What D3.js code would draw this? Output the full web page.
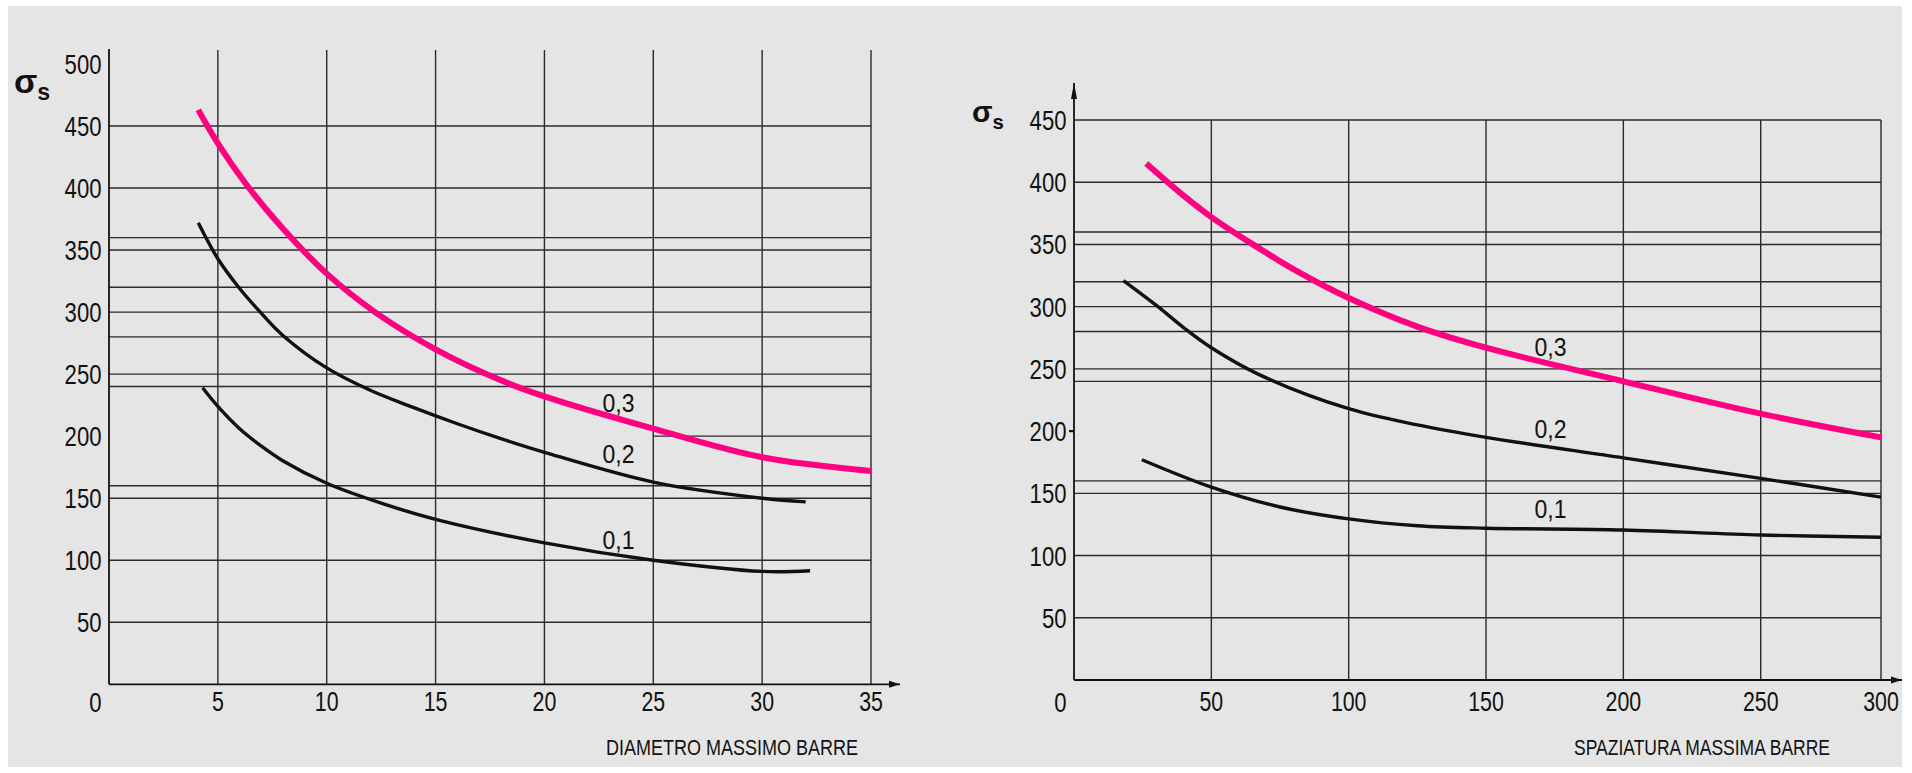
<!DOCTYPE html>
<html><head><meta charset="utf-8">
<script src="https://cdn.jsdelivr.net/npm/d3@7"></script>
<style>html,body{margin:0;padding:0;background:#fff;}svg{display:block;}</style>
</head><body>
<script>
// ---------- DATA ----------
const leftXTicks = [5, 10, 15, 20, 25, 30, 35];
const leftYLabels = [50, 100, 150, 200, 250, 300, 350, 400, 450, 500];
const leftGrid = [50, 100, 150, 160, 240, 250, 280, 300, 320, 350, 360, 400, 450];
const leftPartial = {value: 200, from: 25, to: 35};
const leftSeries03 = [[4.1,463],[5,436],[6.3,403],[7.9,369],[10,331],[12.3,299],[15,270],[18,245],[20,232],[25,206],[30,183],[35,172]];
const leftSeries02 = [[4.1,372],[5,343],[6,319],[7,299],[8,281],[10,255],[12,237],[14,223],[16,210],[18,198],[20,187],[25,163],[30,150],[32,147]];
const leftSeries01 = [[4.3,239],[5,224],[6,206],[7,192],[8,180],[10,162],[12.5,146],[15,133],[20,114],[25,100],[30,91],[32.2,91.5]];
const leftLabels = [{t:"0,3", x:23.4, v:219.5},{t:"0,2", x:23.4, v:178.4},{t:"0,1", x:23.4, v:109}];
const leftTitle = "DIAMETRO MASSIMO BARRE";

const rightXTicks = [50, 100, 150, 200, 250, 300];
const rightYLabels = [50, 100, 150, 200, 250, 300, 350, 400, 450];
const rightGrid = [50, 100, 150, 160, 240, 250, 280, 300, 320, 350, 360, 400, 450];
const rightPartial = {value: 200, from: 282, to: 300};
const rightSeries03 = [[26.3,415],[40,389],[50,372],[63,353],[80,330],[100,307],[125,284],[150,267],[200,240],[250,214],[300,195]];
const rightSeries02 = [[18,321],[30,301],[40,283],[50,267],[67.8,245],[100,218],[125,205],[150,195],[200,178.5],[250,162],[300,147]];
const rightSeries01 = [[24.7,177],[50,155],[75,139],[100,129.5],[125,124],[150,122],[200,120.5],[250,116.5],[300,114.7]];
const rightLabels = [{t:"0,3", x:173.5, v:260.4},{t:"0,2", x:173.5, v:194.5},{t:"0,1", x:173.5, v:130.2}];
const rightTitle = "SPAZIATURA MASSIMA BARRE";

// ---------- LAYOUT ----------
const W = 1912, H = 773;
const PINK = "#ff0080", INK = "#111", GRID = "#2a2a2a";
const FONT = "'Liberation Sans', Arial, sans-serif";
const SX = 0.79;

const svg = d3.select("body").append("svg").attr("width", W).attr("height", H);
svg.append("rect").attr("width", W).attr("height", H).attr("fill", "#fff");
svg.append("rect").attr("x", 8).attr("y", 6).attr("width", 1894).attr("height", 761).attr("fill", "#e5e5e5");

const line = d3.line().curve(d3.curveCatmullRom.alpha(0.5));

function panel(o) {
  const g = svg.append("g");
  const {x, y} = o;
  g.selectAll("line.h").data(o.grid).join("line")
    .attr("x1", x(0)).attr("x2", o.gridRight)
    .attr("y1", d => y(d)).attr("y2", d => y(d))
    .attr("stroke", GRID).attr("stroke-width", 1.4);
  g.append("line")
    .attr("x1", x(o.partial.from)).attr("x2", x(o.partial.to))
    .attr("y1", y(o.partial.value)).attr("y2", y(o.partial.value))
    .attr("stroke", GRID).attr("stroke-width", 1.4);
  g.selectAll("line.v").data(o.xTicks).join("line")
    .attr("x1", d => x(d)).attr("x2", d => x(d))
    .attr("y1", o.vTop).attr("y2", y(0))
    .attr("stroke", GRID).attr("stroke-width", 1.4);
  g.append("line").attr("x1", x(0)).attr("x2", x(0)).attr("y1", o.axisTop).attr("y2", y(0))
    .attr("stroke", INK).attr("stroke-width", 1.8);
  g.append("line").attr("x1", x(0)).attr("x2", o.axisRight).attr("y1", y(0)).attr("y2", y(0))
    .attr("stroke", INK).attr("stroke-width", 1.8);
  g.append("path").attr("d", `M${o.axisRight},${y(0)} l-11,-3.5 l0,7 z`).attr("fill", INK);
  if (o.yArrow) {
    g.append("path").attr("d", `M${x(0)},${o.axisTop} l-3,16 l6,0 z`).attr("fill", INK);
  }
  if (o.smallTick != null) {
    g.append("line").attr("x1", x(0) - 5).attr("x2", x(0)).attr("y1", y(o.smallTick)).attr("y2", y(o.smallTick))
      .attr("stroke", INK).attr("stroke-width", 2.2);
  }
  g.selectAll("text.yl").data(o.yLabels).join("text")
    .attr("transform", d => `translate(${x(0) - 7.5},${y(d) + 10}) scale(${SX},1)`)
    .attr("text-anchor", "end").attr("font-family", FONT).attr("font-size", 28).attr("fill", INK)
    .text(d => d);
  g.append("text")
    .attr("transform", `translate(${x(0) - 7.5},${712}) scale(${SX},1)`)
    .attr("text-anchor", "end").attr("font-family", FONT).attr("font-size", 28).attr("fill", INK)
    .text("0");
  g.selectAll("text.xl").data(o.xTicks).join("text")
    .attr("transform", d => `translate(${x(d)},${711}) scale(${SX},1)`)
    .attr("text-anchor", "middle").attr("font-family", FONT).attr("font-size", 27).attr("fill", INK)
    .text(d => d);
  g.append("text").attr("x", o.titleX).attr("y", 755)
    .attr("font-family", FONT).attr("font-size", 22).attr("fill", INK)
    .attr("textLength", o.titleLen).attr("lengthAdjust", "spacingAndGlyphs")
    .text(o.title);
  const s = g.append("text").attr("x", o.sigma[0]).attr("y", o.sigma[1])
    .attr("font-family", FONT).attr("font-weight", "bold").attr("fill", INK);
  s.append("tspan").attr("font-size", o.sigma[2]).text("σ");
  s.append("tspan").attr("font-size", o.sigma[2] * 0.68).attr("dy", o.sigma[2] * 0.22).text("s");
  const toPx = arr => arr.map(d => [x(d[0]), y(d[1])]);
  o.series.forEach(sr => {
    g.append("path").attr("d", line(toPx(sr.data))).attr("fill", "none")
      .attr("stroke", sr.color).attr("stroke-width", sr.w).attr("stroke-linecap", "butt").attr("stroke-linejoin", "round");
  });
  g.selectAll("text.cl").data(o.labels).join("text")
    .attr("x", d => x(d.x)).attr("y", d => y(d.v))
    .attr("text-anchor", "middle").attr("font-family", FONT).attr("font-size", 26).attr("fill", INK)
    .attr("textLength", 32).attr("lengthAdjust", "spacingAndGlyphs")
    .text(d => d.t);
}

const xL = d3.scaleLinear().domain([0, 35]).range([109, 871]);
const yL = d3.scaleLinear().domain([0, 450]).range([684.3, 126]);
panel({
  x: xL, y: yL, grid: leftGrid, partial: leftPartial, xTicks: leftXTicks, yLabels: leftYLabels,
  gridRight: xL(35), vTop: 50, axisTop: 49, axisRight: 900, yArrow: false, smallTick: null,
  title: leftTitle, titleX: 606, titleLen: 252, sigma: [14, 93, 34],
  series: [
    {data: leftSeries01, color: INK, w: 3.4},
    {data: leftSeries02, color: INK, w: 3.4},
    {data: leftSeries03, color: PINK, w: 6}
  ],
  labels: leftLabels
});

const xR = d3.scaleLinear().domain([0, 250, 300]).range([1074, 1760.7, 1881]);
const yR = d3.scaleLinear().domain([0, 450]).range([680, 120]);
panel({
  x: xR, y: yR, grid: rightGrid, partial: rightPartial, xTicks: rightXTicks, yLabels: rightYLabels,
  gridRight: xR(300), vTop: yR(450), axisTop: 83, axisRight: 1902, yArrow: true, smallTick: 200,
  title: rightTitle, titleX: 1574, titleLen: 256, sigma: [972, 122, 30],
  series: [
    {data: rightSeries01, color: INK, w: 3.4},
    {data: rightSeries02, color: INK, w: 3.4},
    {data: rightSeries03, color: PINK, w: 6}
  ],
  labels: rightLabels
});
</script>
</body></html>
